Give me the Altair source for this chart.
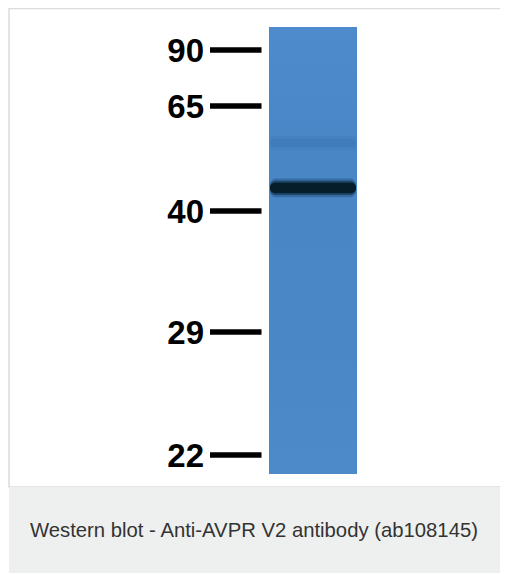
import altair as alt
import pandas as pd

# ---- data read from the blot ----
marker_kda = [90, 65, 40, 29, 22]
# migration distance, % of lane length from the top of the lane
marker_migration = [5.15, 17.67, 41.16, 68.23, 95.75]

band_names = ["faint ~55 kDa", "main ~45 kDa"]
band_migration = [25.95, 36.0]
band_intensity = [0.3, 1.0]

lane_top = [0]
lane_bottom = [100]

caption = "Western blot - Anti-AVPR V2 antibody (ab108145)"

# ---- tables ----
markers = pd.DataFrame({"kda": marker_kda, "mig": marker_migration})
markers["label"] = markers["kda"].astype(str)
bands = pd.DataFrame({"band": band_names, "mig": band_migration, "intensity": band_intensity})
lane = pd.DataFrame({"top": lane_top, "bottom": lane_bottom})
dummy = pd.DataFrame({"d": [0]})

yscale = alt.Scale(domain=[0, 100], range=[19, 466])

card = alt.Chart(dummy).mark_rect(fill="white", stroke="#dcdcdc", strokeWidth=1.5).encode(
    x=alt.value(1), x2=alt.value(520), y=alt.value(0.5), y2=alt.value(479)
)
cap_bg = alt.Chart(dummy).mark_rect(fill="#eef0ef").encode(
    x=alt.value(1), x2=alt.value(520), y=alt.value(479), y2=alt.value(565)
)
cap_text = alt.Chart(dummy).mark_text(
    align="left", baseline="middle", fontSize=20.3, font="Liberation Sans", color="#333333"
).encode(x=alt.value(22), y=alt.value(523), text=alt.value(caption))

lane_grad = alt.Gradient(
    gradient="linear",
    stops=[
        alt.GradientStop(color="#4d8bcc", offset=0),
        alt.GradientStop(color="#4986c6", offset=0.3),
        alt.GradientStop(color="#4a87c7", offset=0.7),
        alt.GradientStop(color="#4c8aca", offset=1),
    ],
    x1=0, x2=0, y1=0, y2=1,
)
lane_rect = alt.Chart(lane).mark_rect(color=lane_grad).encode(
    x=alt.value(261), x2=alt.value(349),
    y=alt.Y("top:Q", scale=yscale, axis=None), y2="bottom:Q",
)

def band_layer(test, half, op, color, radius):
    return alt.Chart(bands).transform_filter(test).transform_calculate(
        y1=f"datum.mig - {half}", y2=f"datum.mig + {half}"
    ).mark_rect(color=color, opacity=op, cornerRadius=radius).encode(
        x=alt.value(262), x2=alt.value(348),
        y=alt.Y("y1:Q", scale=yscale, axis=None), y2="y2:Q",
    )

faint_outer = band_layer(alt.datum.intensity < 0.5, 1.6, 0.15, "#2f6aa5", 3)
faint_inner = band_layer(alt.datum.intensity < 0.5, 0.9, 0.25, "#2f6aa5", 3)

main_halo = band_layer(alt.datum.intensity >= 0.5, 2.1, 0.3, "#0d3350", 6)
main_mid = band_layer(alt.datum.intensity >= 0.5, 1.6, 0.6, "#0a2a3e", 6)
main_core = band_layer(alt.datum.intensity >= 0.5, 1.15, 1.0, "#061d2a", 5)

ticks = alt.Chart(markers).mark_rule(color="black", strokeWidth=5.5).encode(
    x=alt.value(202), x2=alt.value(253.5),
    y=alt.Y("mig:Q", scale=yscale, axis=None),
)
labels = alt.Chart(markers).mark_text(
    align="right", baseline="middle", fontSize=33, fontWeight="bold",
    font="Liberation Sans", color="black", dy=2,
).encode(
    x=alt.value(196), y=alt.Y("mig:Q", scale=yscale, axis=None), text="label:N"
)

chart = alt.layer(
    card, cap_bg, cap_text, lane_rect, faint_outer, faint_inner,
    main_halo, main_mid, main_core, ticks, labels
).properties(
    width=492, height=565, padding=0, autosize="none", background="white"
).configure_view(stroke=None)

chart.save("out.html", embed_options={"renderer": "svg", "actions": False})
